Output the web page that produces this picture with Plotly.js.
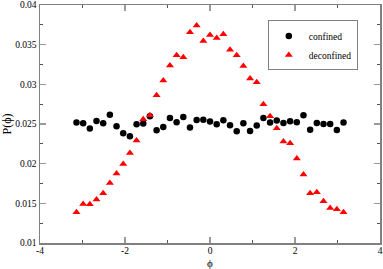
<!DOCTYPE html>
<html>
<head>
<meta charset="utf-8">
<script src="https://cdn.plot.ly/plotly-3.0.1.min.js"></script>
<style>html,body{margin:0;padding:0;background:#fff;}#chart{width:383px;height:269px;}</style>
</head>
<body>
<div id="chart"></div>
<script>
// phi values: -pi .. pi in 41 steps
var nPoints = 41;
var phi = [];
for (var i = 0; i < nPoints; i++) { phi.push(-Math.PI + i * Math.PI / 20); }

var confined = [0.02518, 0.02509, 0.02442, 0.02538, 0.02509, 0.02618, 0.02471, 0.02383, 0.02345, 0.02496,
  0.02505, 0.02597, 0.02421, 0.02462, 0.02576, 0.02521, 0.02588, 0.02455, 0.02550, 0.02555,
  0.02530, 0.02496, 0.02547, 0.02484, 0.02408, 0.02509, 0.02412, 0.02480, 0.02576, 0.02518,
  0.02543, 0.02513, 0.02534, 0.02521, 0.02610, 0.02429, 0.02513, 0.02500, 0.02500, 0.02424, 0.02518];

var deconfined = [0.01387, 0.01492, 0.01488, 0.01547, 0.01627, 0.01757, 0.01875, 0.01996, 0.02135, 0.02291,
  0.02559, 0.02610, 0.02862, 0.03047, 0.03236, 0.03366, 0.03340, 0.03655, 0.03743, 0.03546,
  0.03621, 0.03584, 0.03630, 0.03437, 0.03366, 0.03231, 0.03072, 0.03025, 0.02748, 0.02597,
  0.02446, 0.02278, 0.02257, 0.02064, 0.01862, 0.01627, 0.01640, 0.01526, 0.01442, 0.01425, 0.01387];

var xTickVals = [-4, -2, 0, 2, 4];
var xTickText = ['-4', '-2', '0', '2', '4'];
var yTickVals = [0.01, 0.015, 0.02, 0.025, 0.03, 0.035, 0.04];
var yTickText = ['0.01', '0.015', '0.02', '0.025', '0.03', '0.035', '0.04'];
var xTitle = 'ϕ';
var yTitle = 'P(ϕ)';

var serif = 'Liberation Serif, DejaVu Serif, serif';

var traces = [
  {x: phi, y: confined, name: 'confined', mode: 'markers', type: 'scatter',
   marker: {symbol: 'circle', size: 6.5, color: '#000000'}},
  {x: phi, y: deconfined, name: 'deconfined', mode: 'markers', type: 'scatter',
   marker: {symbol: 'triangle-up', size: 7, color: '#ff0000'}}
];

var axisCommon = {
  showgrid: false, zeroline: false, showline: true, mirror: 'allticks',
  linecolor: '#808080', linewidth: 1.5,
  ticks: 'inside', ticklen: 6, tickwidth: 1.5, tickcolor: '#9a9a9a',
  ticklabeloverflow: 'allow',
  tickfont: {family: serif, size: 9.5, color: '#000'}
};

var layout = {
  width: 383, height: 269,
  margin: {l: 40, r: 3, t: 5, b: 26},
  paper_bgcolor: '#fff', plot_bgcolor: '#fff',
  showlegend: true,
  legend: {x: 0.67, y: 0.935, xanchor: 'left', yanchor: 'top',
    bordercolor: '#808080', borderwidth: 1, bgcolor: '#fff',
    font: {family: serif, size: 9.5, color: '#000'},
    tracegroupgap: 0, itemwidth: 30},
  xaxis: Object.assign({}, axisCommon, {
    range: [-4, 4], tickmode: 'array', tickvals: xTickVals, ticktext: xTickText,
    ticklabelstandoff: -2,
    minor: {dtick: 1, tick0: 0, ticklen: 3, tickwidth: 1, tickcolor: '#555', ticks: 'inside'}
  }),
  yaxis: Object.assign({}, axisCommon, {
    range: [0.01, 0.04], tickmode: 'array', tickvals: yTickVals, ticktext: yTickText,
    minor: {dtick: 0.0025, tick0: 0.01, ticklen: 3, tickwidth: 1, tickcolor: '#555', ticks: 'inside'},
    title: {text: yTitle, font: {family: serif, size: 12, color: '#000'}, standoff: 2}
  }),
  annotations: [
    {text: xTitle, xref: 'paper', yref: 'paper', x: 0.5, y: 0, xanchor: 'center', yanchor: 'top',
     yshift: -13, showarrow: false, borderpad: 0, font: {family: serif, size: 11, color: '#000'}}
  ]
};

Plotly.newPlot('chart', traces, layout, {displayModeBar: false, staticPlot: true});
</script>
</body>
</html>
